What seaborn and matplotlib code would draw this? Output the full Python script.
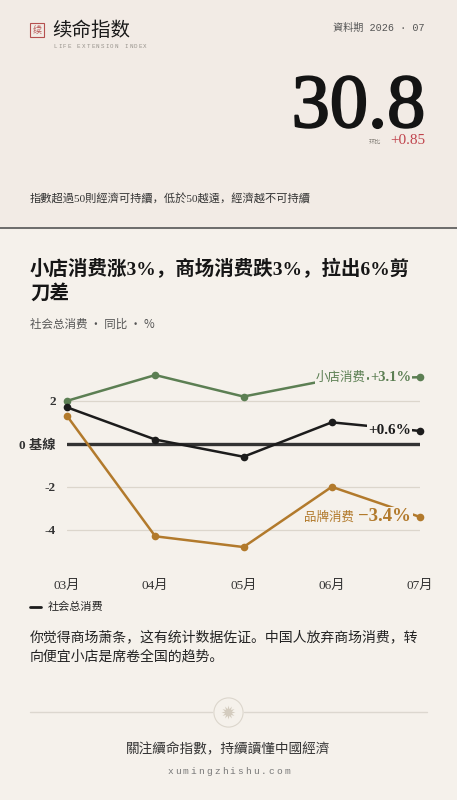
import matplotlib
matplotlib.use("Agg")
import matplotlib.pyplot as plt
import matplotlib.patheffects as pe
from matplotlib.lines import Line2D
from matplotlib.patches import Rectangle
import numpy as np
import pandas as pd
import seaborn as sns

# data
months = ["03月", "04月", "05月", "06月", "07月"]
small_shop = [2.0, 3.2, 2.2, 3.0, 3.1]
total = [1.7, 0.2, -0.6, 1.0, 0.6]
brand = [1.3, -4.3, -4.8, -2.0, -3.4]
series_names = ["小店消费", "社会总消费", "品牌消费"]
y_ticks = [2, 0, -2, -4]
y_tick_labels = ["2", "0 基線", "-2", "-4"]
index_value = "30.8"
index_change = "+0.85"

BG_TOP = "#f2ebe5"
BG = "#f5f1eb"
GREEN = "#5c7f53"
BLACK = "#1c1c1c"
ORANGE = "#b27a2c"
RED = "#c0434c"

sns.set_theme(style="white")
plt.rcParams["font.family"] = ["Noto Sans CJK SC", "DejaVu Sans"]
SERIF = ["Liberation Serif", "Noto Sans CJK SC"]
MONO = ["Liberation Mono", "Noto Sans CJK SC"]

W, H = 457, 800
fig = plt.figure(figsize=(W / 100, H / 100), dpi=100)
fig.patch.set_facecolor(BG)


def fx(px):
    return px / W


def fy(py):
    return 1 - py / H


def spaced(text, x0, x1, y, **kw):
    # letter-spaced text: one glyph per slot between x0 and x1
    n = len(text)
    for i, ch in enumerate(text):
        fig.text(fx(x0 + (x1 - x0) * i / (n - 1)), fy(y), ch, ha="center", va="center", **kw)


# header band
fig.patches.append(Rectangle((0, fy(228)), 1, 228 / H, transform=fig.transFigure,
                             color=BG_TOP, zorder=0))
fig.add_artist(Line2D([0, 1], [fy(228), fy(228)], color="#555555", lw=1.2))

# logo
fig.patches.append(Rectangle((fx(30), fy(37)), 14 / W, 14 / H, transform=fig.transFigure,
                             fill=False, edgecolor="#b5504f", lw=0.8))
fig.text(fx(37), fy(30), "续", color="#b5504f", fontsize=6.5, ha="center", va="center")
fig.text(fx(52), fy(30), "续命指数", color="#1a1a1a", fontsize=14, ha="left", va="center")
spaced("LIFE EXTENSION INDEX", 55, 145, 46, color="#9a958e", fontsize=4.2, family=MONO)
fig.text(fx(425), fy(28), "資料期 2026 · 07", color="#555555", fontsize=7.3,
         family=MONO, ha="right", va="center")

fig.text(fx(425), fy(127), index_value, color="#141414", fontsize=55, family=SERIF,
         ha="right", va="baseline",
         path_effects=[pe.withStroke(linewidth=1.4, foreground="#141414")])
fig.text(fx(425), fy(141), index_change, color=RED, fontsize=11, family=SERIF,
         ha="right", va="center")
fig.text(fx(381), fy(142), "环比", color="#8a857e", fontsize=4.5, ha="right", va="center")

fig.text(fx(30), fy(199), "指數超過50則經濟可持續，低於50越遠，經濟越不可持續",
         color="#333333", fontsize=8.1, family=SERIF, ha="left", va="center")

# title block
fig.text(fx(30), fy(281), "小店消费涨3%，商场消费跌3%，拉出6%剪\n刀差", color="#161616",
         fontsize=14, fontweight="bold", family=SERIF, ha="left", va="center",
         linespacing=1.3)
fig.text(fx(30), fy(324), "社会总消费 · 同比 · %", color="#555555", fontsize=8.3,
         ha="left", va="center")

# chart
df = pd.DataFrame({
    "x": list(range(len(months))) * 3,
    "value": small_shop + total + brand,
    "series": [series_names[0]] * 5 + [series_names[1]] * 5 + [series_names[2]] * 5,
})
palette = {series_names[0]: GREEN, series_names[1]: BLACK, series_names[2]: ORANGE}

ax = fig.add_axes([fx(67), fy(564.25), fx(420) - fx(67), 204.25 / H])
ax.set_facecolor("none")
for ytk in [2, -2, -4]:
    ax.axhline(ytk, color="#dcd6cc", lw=0.9, zorder=0)
ax.axhline(0, color="#333333", lw=2.4, zorder=1)

sns.lineplot(data=df, x="x", y="value", hue="series", palette=palette, marker="o",
             markersize=5.5, markeredgewidth=0, linewidth=1.8, legend=False,
             ax=ax, clip_on=False, zorder=2)

ax.set_xlim(0, 4)
ax.set_ylim(-5.6, 3.9)
ax.set_xticks(range(len(months)))
ax.set_xticklabels(months, family=SERIF, fontsize=9.5, color="#333333")
ax.set_yticks(y_ticks)
ax.set_yticklabels(y_tick_labels, family=SERIF, fontsize=9.5, color="#333333")
ax.tick_params(axis="x", length=0, pad=11)
ax.tick_params(axis="y", length=0, pad=8)
for lbl in ax.get_yticklabels():
    lbl.set_fontweight("bold")
ax.set_xlabel("")
ax.set_ylabel("")
for sp in ax.spines.values():
    sp.set_visible(False)

box = dict(boxstyle="square,pad=0.08", facecolor=BG, edgecolor="none")
fig.canvas.draw()
renderer = fig.canvas.get_renderer()


def end_label(value_text, name_text, y, color, vsize, nsize):
    t = ax.text(3.9, y, value_text, color=color, fontsize=vsize, fontweight="bold",
                family=SERIF, ha="right", va="center", bbox=box, zorder=3)
    if name_text:
        bb = t.get_window_extent(renderer)
        x_left = ax.transData.inverted().transform((bb.x0 - 4, bb.y0))[0]
        ax.text(x_left, y, name_text, color=color, fontsize=nsize, ha="right",
                va="center", bbox=box, zorder=3)


end_label("+3.1%", "小店消费", small_shop[-1], GREEN, 10.5, 9)
end_label("+0.6%", "", total[-1], BLACK, 11, 9)
end_label("−3.4%", "品牌消费", brand[-1], ORANGE, 13.5, 9)

# legend with only the total series
fig.add_artist(Line2D([fx(30), fx(41)], [fy(607), fy(607)], color=BLACK, lw=2))
fig.text(fx(48), fy(607), series_names[1], color="#222222", fontsize=8, ha="left", va="center")

fig.text(fx(30), fy(647), "你觉得商场萧条，这有统计数据佐证。中国人放弃商场消费，转\n向便宜小店是席卷全国的趋势。",
         color="#222222", fontsize=10, ha="left", va="center", linespacing=1.5)

# ornament divider
fig.add_artist(Line2D([fx(30), fx(212)], [fy(712), fy(712)], color="#dcd7cf", lw=1))
fig.add_artist(Line2D([fx(244), fx(427)], [fy(712), fy(712)], color="#dcd7cf", lw=1))
fig.add_artist(Line2D([fx(228)], [fy(712)], marker="o", markersize=21, mfc="none",
                      mec="#dcd6cc", mew=0.8))
fig.add_artist(Line2D([fx(228)], [fy(712)], marker=(12, 1, 0), markersize=10,
                      color="#d4ccbf", mew=0))

fig.text(fx(228), fy(750), "關注續命指數，持續讀懂中國經濟", color="#333333", fontsize=9.8,
         family=SERIF, ha="center", va="center")
spaced("xumingzhishu.com", 170, 287, 772, color="#777777", fontsize=6.8, family=MONO)

fig.savefig("out.png", dpi=100, facecolor=fig.get_facecolor())
